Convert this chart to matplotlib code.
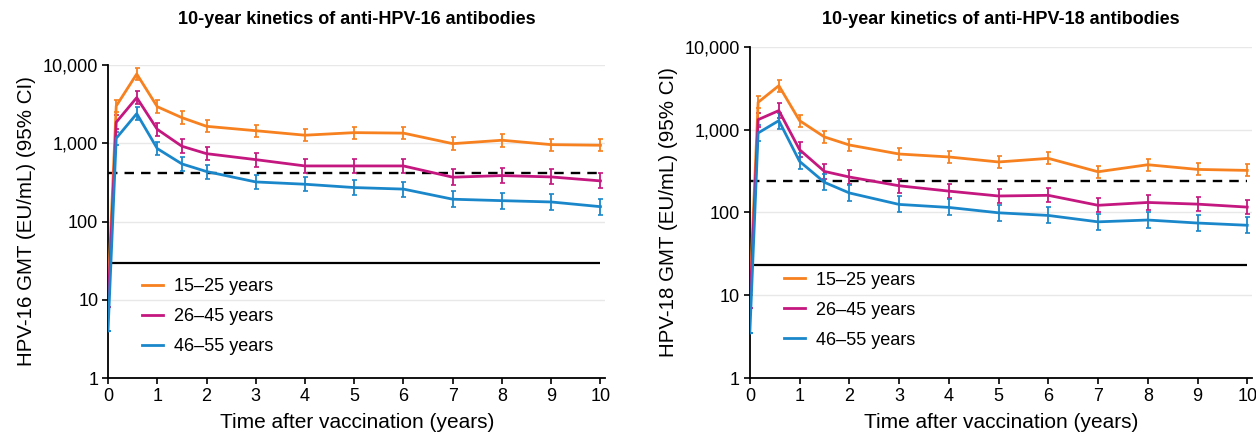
import matplotlib
matplotlib.use("Agg")
import matplotlib.pyplot as plt
from matplotlib.ticker import FixedLocator, FuncFormatter, NullLocator

plt.rcParams['font.family'] = ['Liberation Sans', 'DejaVu Sans']

# time points (years after first dose)
times = [0, 2/12, 7/12, 1, 1.5, 2, 3, 4, 5, 6, 7, 8, 9, 10]
groups = ['15–25 years', '26–45 years', '46–55 years']
colors = ['#f7801f', '#c4177f', '#1b87cb']

# HPV-16 GMTs and 95% CI bounds
hpv16_gmt = [
    [12, 3000, 7700, 2940, 2130, 1650, 1450, 1270, 1370, 1350, 990, 1095, 962, 945],
    [8, 1860, 3840, 1510, 918, 738, 619, 514, 514, 514, 369, 387, 372, 331],
    [4, 1160, 2395, 857, 546, 436, 321, 300, 272, 260, 193, 185, 178, 155],
]
hpv16_lo = [
    [12, 2500, 6400, 2450, 1780, 1380, 1210, 1060, 1140, 1120, 820, 910, 800, 790],
    [8, 1530, 3150, 1240, 750, 605, 505, 420, 420, 420, 295, 310, 300, 265],
    [4, 960, 1960, 700, 445, 355, 260, 243, 218, 208, 152, 146, 141, 122],
]
hpv16_hi = [
    [12, 3600, 9300, 3530, 2560, 1980, 1740, 1520, 1640, 1620, 1190, 1310, 1150, 1130],
    [8, 2270, 4680, 1840, 1120, 900, 755, 630, 630, 630, 465, 485, 465, 415],
    [4, 1400, 2920, 1045, 670, 535, 395, 370, 340, 325, 245, 235, 225, 197],
]
hpv16_dashed = 415
hpv16_solid = 29.5

# HPV-18 GMTs and 95% CI bounds
hpv18_gmt = [
    [10, 2140, 3400, 1285, 816, 653, 508, 468, 407, 450, 310, 377, 331, 322],
    [7, 1321, 1700, 573, 313, 268, 210, 181, 158, 161, 122, 132, 126, 116],
    [3.5, 912, 1285, 414, 231, 172, 125, 115, 99, 92, 77, 81, 74.5, 70],
]
hpv18_lo = [
    [10, 1820, 2880, 1090, 690, 553, 430, 397, 345, 381, 263, 320, 280, 273],
    [7, 1080, 1395, 470, 257, 220, 172, 148, 130, 132, 100, 108, 103, 95],
    [3.5, 730, 1030, 331, 185, 138, 100, 92, 79, 74, 62, 65, 60, 56],
]
hpv18_hi = [
    [10, 2520, 4010, 1515, 963, 770, 600, 552, 480, 531, 366, 445, 391, 380],
    [7, 1610, 2075, 700, 382, 327, 256, 221, 193, 196, 149, 161, 154, 142],
    [3.5, 1140, 1605, 518, 289, 215, 156, 144, 124, 115, 96, 101, 93, 88],
]
hpv18_dashed = 242
hpv18_solid = 23

fig = plt.figure(figsize=(12.56, 4.34), dpi=100)
ax1 = fig.add_axes([0.086, 0.129, 0.396, 0.721])
ax2 = fig.add_axes([0.597, 0.129, 0.400, 0.763])


def draw_panel(ax, gmt, lo, hi, dashed, solid, title, ylabel):
    ax.set_yscale('log')
    ax.set_ylim(1, 10000)
    ax.set_xlim(0, 10.1)
    ax.hlines(dashed, 0, 10, colors='black', linestyles=(0, (4, 3)), linewidth=1.7, zorder=2)
    ax.hlines(solid, 0, 10, colors='black', linewidth=1.6, zorder=2)
    for k in range(3):
        g = gmt[k]
        yerr = [[g[i] - lo[k][i] for i in range(len(g))],
                [hi[k][i] - g[i] for i in range(len(g))]]
        ax.errorbar(times, g, yerr=yerr, color=colors[k], linewidth=2,
                    elinewidth=1.3, capsize=1.8, capthick=1.2,
                    label=groups[k], zorder=3)
    ax.yaxis.set_major_locator(FixedLocator([1, 10, 100, 1000, 10000]))
    ax.yaxis.set_minor_locator(NullLocator())
    ax.yaxis.set_major_formatter(FuncFormatter(lambda v, p: f"{int(v):,}"))
    ax.set_xticks(range(0, 11))
    ax.grid(axis='y', color='#e8e8e8', linewidth=1)
    ax.set_axisbelow(True)
    for s in ['top', 'right']:
        ax.spines[s].set_visible(False)
    for s in ['left', 'bottom']:
        ax.spines[s].set_linewidth(1.3)
    ax.tick_params(labelsize=13, length=4, width=1.2, pad=3)
    ax.set_xlabel('Time after vaccination (years)', fontsize=15, labelpad=6)
    ax.set_ylabel(ylabel, fontsize=14.8, labelpad=5)
    leg_handles = [plt.Line2D([], [], color=c, linewidth=2) for c in colors]
    ax.legend(leg_handles, groups, loc='upper left', bbox_to_anchor=(0.035, 0.37),
              frameon=False, fontsize=13, handlelength=1.2, handletextpad=0.6,
              labelspacing=0.72)
    pos = ax.get_position()
    fig.text((pos.x0 + pos.x1) / 2, 1 - 20 / 434, title, ha='center', va='center',
             fontsize=13, fontweight='bold')


draw_panel(ax1, hpv16_gmt, hpv16_lo, hpv16_hi, hpv16_dashed, hpv16_solid,
           '10-year kinetics of anti-HPV-16 antibodies', 'HPV-16 GMT (EU/mL) (95% CI)')
draw_panel(ax2, hpv18_gmt, hpv18_lo, hpv18_hi, hpv18_dashed, hpv18_solid,
           '10-year kinetics of anti-HPV-18 antibodies', 'HPV-18 GMT (EU/mL) (95% CI)')

fig.savefig('out.png', dpi=100)
